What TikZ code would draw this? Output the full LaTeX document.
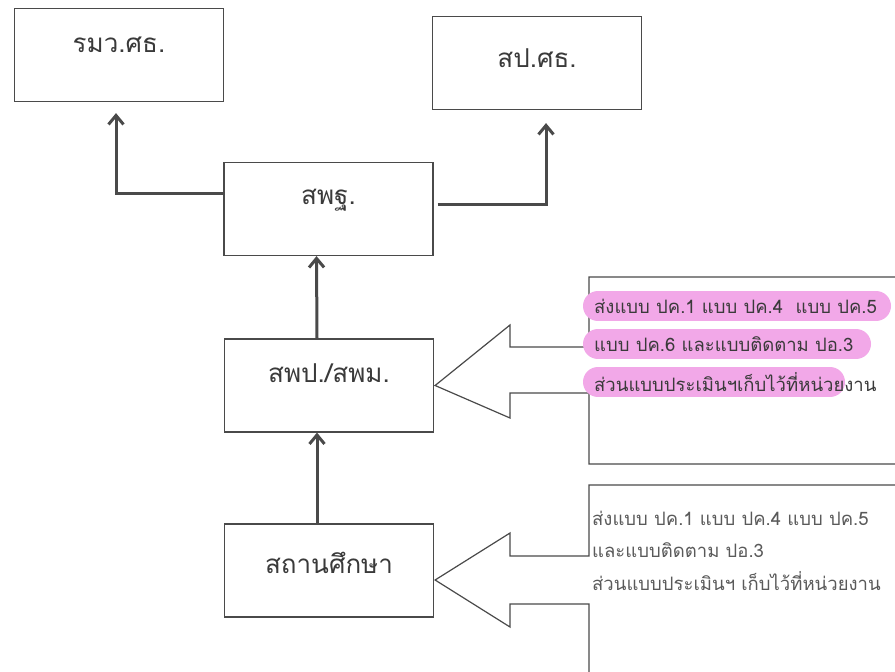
\documentclass[tikz,border=0pt]{standalone}
\usepackage{fontspec}
\newfontfamily\thaifont[Script=Thai]{Loma}
\usetikzlibrary{arrows.meta}
\definecolor{linegray}{HTML}{4A4A4A}
\definecolor{txtgray}{HTML}{3A3A3A}
\definecolor{txtlight}{HTML}{5A5A5A}
\definecolor{hlpink}{HTML}{F2A8E8}
\tikzset{
  orgbox/.style={draw=linegray, line width=1.2pt, fill=white, minimum width=209pt, minimum height=93pt, inner sep=0pt},
  boxlabel/.style={font=\thaifont\fontsize{26}{26}\selectfont, text=txtgray, inner sep=0pt},
  conn/.style={draw=linegray, line width=3pt, -{Straight Barb[length=9pt,width=15pt,line width=3pt]}},
  callout/.style={draw=linegray, line width=1.2pt, fill=white},
  notetext/.style={font=\thaifont\fontsize{18.5}{18.5}\selectfont, anchor=west, inner sep=0pt},
  hl/.style={draw=hlpink, line width=30pt, line cap=round}
}
\begin{document}
\begin{tikzpicture}[x=1pt,y=-1pt]
\useasboundingbox (0,0) rectangle (895,672);
\fill[white] (0,0) rectangle (895,672);
\clip (0,0) rectangle (895,672);

% boxes
\node[orgbox] (rmw) at (119,55) {};
\node[boxlabel] (rmwl) at ([yshift=10pt]rmw.center) {รมว.ศธ.};
\node[orgbox] (sp) at (537,63) {};
\node[boxlabel] (spl) at ([yshift=5pt]sp.center) {สป.ศธ.};
\node[orgbox] (spt) at (328.5,209) {};
\node[boxlabel] (sptl) at ([yshift=9pt]spt.center) {สพฐ.};
\node[orgbox] (spp) at (329,385.5) {};
\node[boxlabel] (sppl) at ([yshift=12pt]spp.center) {สพป./สพม.};
\node[orgbox] (sch) at (329,570.5) {};
\node[boxlabel] (schl) at ([yshift=8pt]sch.center) {สถานศึกษา};

% connectors
\draw[conn] ([yshift=16pt]spt.west) -| ([xshift=-3pt,yshift=-11pt]rmw.south);
\draw[conn] ([xshift=4pt,yshift=5pt]spt.east) -| ([xshift=9pt,yshift=-13pt]sp.south);
\draw[conn] ([xshift=-12pt]spp.north) -- ([xshift=-12pt]spt.south);
\draw[conn] ([xshift=-12pt]sch.north) -- ([xshift=-12pt]spp.south);

% callout 1
\draw[callout] (589,277) -- (900,277) -- (900,464) -- (589,464) -- (589,393) -- (510,393) -- (510,418)
  -- ([xshift=1pt]spp.east) -- (510,325) -- (510,347) -- (589,347) -- cycle;
\draw[hl] (598,306) -- (876,306);
\draw[hl] (598,344) -- (856,344);
\draw[hl] (598,382) -- (830,382);
\node[notetext, text=txtgray] (n1a) at (594,306) {ส่งแบบ ปค.1 แบบ ปค.4\ \ แบบ ปค.5};
\node[notetext, text=txtgray] (n1b) at (594,344) {แบบ ปค.6 และแบบติดตาม ปอ.3};
\node[notetext, text=txtgray] (n1c) at (594,382) {ส่วนแบบประเมินฯเก็บไว้ที่หน่วยงาน};

% callout 2
\draw[callout] (589,485) -- (900,485) -- (900,690) -- (589,690) -- (589,604) -- (510,604) -- (510,627)
  -- ([xshift=1pt,yshift=-9.5pt]sch.east) -- (510,533) -- (510,556) -- (589,556) -- cycle;
\node[notetext, text=txtlight] (n2a) at (592,518) {ส่งแบบ ปค.1 แบบ ปค.4 แบบ ปค.5};
\node[notetext, text=txtlight] (n2b) at (592,550) {และแบบติดตาม ปอ.3};
\node[notetext, text=txtlight] (n2c) at (592,581) {ส่วนแบบประเมินฯ เก็บไว้ที่หน่วยงาน};
\end{tikzpicture}
\end{document}
